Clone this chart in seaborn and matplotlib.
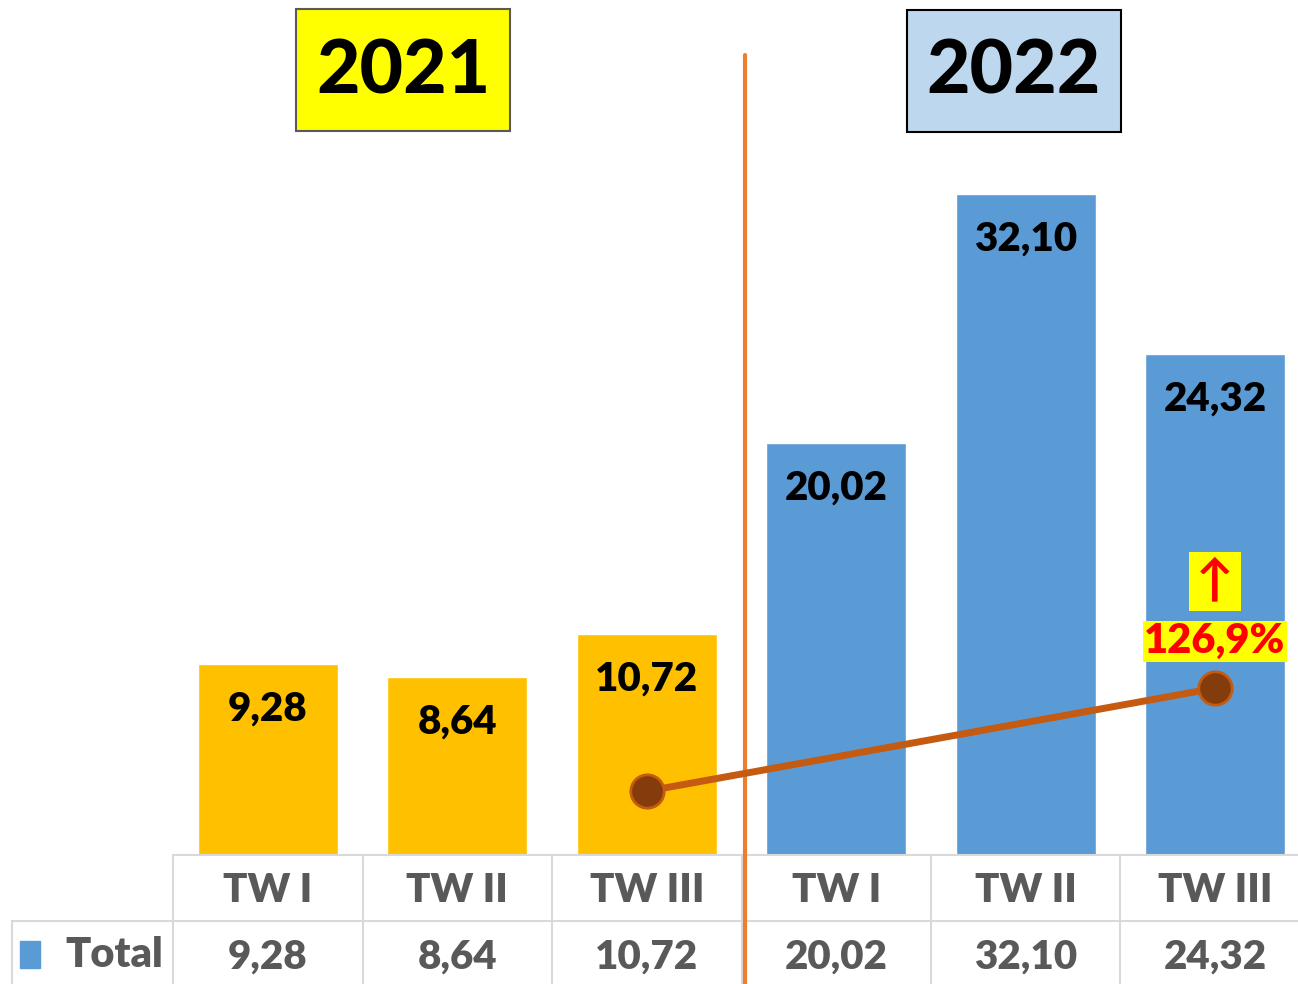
import numpy as np
import pandas as pd
import matplotlib.pyplot as plt
import seaborn as sns
from matplotlib.patches import Rectangle

# data
years = ["2021", "2021", "2021", "2022", "2022", "2022"]
quarters = ["TW I", "TW II", "TW III", "TW I", "TW II", "TW III"]
values = [9.28, 8.64, 10.72, 20.02, 32.10, 24.32]
growth_label = "126,9%"
growth_x = [2, 5]          # TW III 2021 -> TW III 2022
growth_y = [3.1, 8.1]      # decorative trend line heights

palette = {"2021": "#FFC000", "2022": "#5B9BD5"}
year_box = {"2021": "#FFFF00", "2022": "#BDD7EE"}

df = pd.DataFrame({"year": years, "quarter": quarters, "value": values})
df["key"] = df["year"] + " " + df["quarter"]

sns.set_style("white")
plt.rcParams["font.family"] = ["Lato", "DejaVu Sans"]

W, H = 1298, 984
fig = plt.figure(figsize=(W / 100, H / 100), dpi=100)
ax = fig.add_axes([0, 0, 1, 1])

sns.barplot(data=df, x="key", y="value", hue="year", palette=palette,
            width=0.74, dodge=False, legend=False, saturation=1, ax=ax)

# scales: category step 189.4 px, 20.59 px per unit, baseline at 855 px
ax.set_xlim(-268 / 189.4, (W - 268) / 189.4)
ax.set_ylim(-(H - 855) / 20.59, 855 / 20.59)
ax.set_axis_off()

def fpx(x, y):
    return x / W, 1 - y / H

# value labels inside bars
for i, v in enumerate(values):
    ax.annotate(f"{v:.2f}".replace(".", ","), (i, v), xytext=(0, -45),
                textcoords="offset pixels", ha="center", va="center",
                fontsize=29, fontweight="heavy", color="black")

# table
grid = "#D9D9D9"
row1, row2 = -3.2, ax.get_ylim()[0]
ax.plot([-0.5, 5.6], [0, 0], color=grid, lw=1.5, clip_on=False)
ax.plot([ax.get_xlim()[0] + 12 / 189.4, 5.6], [row1, row1], color=grid, lw=1.5)
for xb in np.arange(-0.5, 5.5, 1.0):
    ax.plot([xb, xb], [0, row2], color=grid, lw=1.5)
ax.plot([ax.get_xlim()[0] + 12 / 189.4] * 2, [row1, row2], color=grid, lw=1.5)

for i, (q, v) in enumerate(zip(quarters, values)):
    ax.text(i, -1.72, q, ha="center", va="center", fontsize=29,
            fontweight="heavy", color="#595959")
    ax.text(i, -4.95, f"{v:.2f}".replace(".", ","), ha="center", va="center",
            fontsize=29, fontweight="heavy", color="#595959")

fig.patches.append(Rectangle(fpx(20, 968), 20 / W, 27 / H, color="#5B9BD5",
                             transform=fig.transFigure))
fig.text(*fpx(114, 955), "Total", ha="center", va="center", fontsize=30,
         fontweight="heavy", color="#595959")

# separator between years
ax.plot([2.52, 2.52], [row2, (855 - 55) / 20.59], color="#ED7D31", lw=3)

# growth line
ax.plot(growth_x, growth_y, color="#C55A11", lw=5, solid_capstyle="round",
        marker="o", markersize=24, markerfacecolor="#843C0C",
        markeredgecolor="#C55A11", markeredgewidth=2)

ax.text(5, 8.0 + (689 - 640) / 20.59, growth_label, ha="center", va="center",
        fontsize=30, fontweight="heavy", color="#FF0000",
        bbox=dict(facecolor="#FFFF00", edgecolor="none", pad=1))
ax.text(5, 8.0 + (689 - 580) / 20.59, "↑", ha="center", va="center",
        fontsize=36, fontweight="bold", color="#FF0000",
        bbox=dict(facecolor="#FFFF00", edgecolor="none", pad=5))

# year boxes
for yr, x0, x1, y0, y1, ec in [("2021", 296, 510, 9, 131, "#595959"),
                               ("2022", 907, 1121, 10, 132, "black")]:
    fig.patches.append(Rectangle(fpx(x0, y1), (x1 - x0) / W, (y1 - y0) / H,
                                 facecolor=year_box[yr], edgecolor=ec, lw=1.5,
                                 transform=fig.transFigure))
    fig.text(*fpx((x0 + x1) / 2, 72), yr, ha="center", va="center",
             fontsize=54, fontweight="black", color="black")

plt.savefig("out.png", dpi=100)
